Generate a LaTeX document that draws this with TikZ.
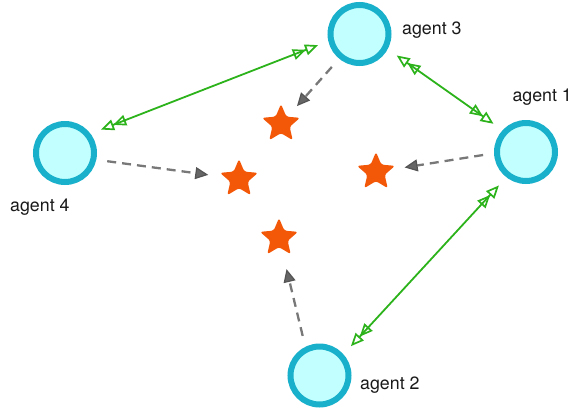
\documentclass[tikz,border=0pt]{standalone}
\usepackage{fontspec}
\setmainfont{TeX Gyre Heros}
\usetikzlibrary{arrows.meta,shapes.geometric}
\definecolor{ringcol}{RGB}{24,176,202}
\definecolor{fillcol}{RGB}{194,255,255}
\definecolor{starcol}{RGB}{243,87,8}
\definecolor{greencol}{RGB}{44,178,26}
\definecolor{dashcol}{RGB}{120,120,120}
\tikzset{
  agent/.style={circle, draw=ringcol, fill=fillcol, line width=6pt, minimum size=58pt, inner sep=0pt, outer sep=14pt},
  lbl/.style={anchor=base west, inner sep=0pt, font=\fontsize{17.8}{20}\selectfont, text=black!90},
  target/.style={star, star points=5, star point ratio=2.2, minimum size=40pt, inner sep=0pt, fill=starcol, rounded corners=2.5pt},
  comm/.style={draw=greencol, line width=1.8pt,
    {Triangle[open,length=13pt,width=11pt,line width=1.7pt]Triangle[open,length=13pt,width=11pt,line width=1.7pt]}-{Triangle[open,length=13pt,width=11pt,line width=1.7pt]Triangle[open,length=13pt,width=11pt,line width=1.7pt]}},
  look/.style={draw=dashcol, line width=2.3pt, dash pattern=on 9pt off 6pt,
    -{Triangle[length=13pt,width=12pt,line width=1.2pt,fill=dashcol!85!black,color=dashcol!70!black]}}
}
\begin{document}
\begin{tikzpicture}[x=1pt,y=1pt]
\useasboundingbox (0,0) rectangle (573,-413);
% agents
\node[agent] (a3) at (359.5,-34) {};
\node[agent] (a4) at (65,-153) {};
\node[agent] (a1) at (526,-152) {};
\node[agent] (a2) at (319.5,-375.5) {};
% labels
\node[lbl] (l3) at (402,-34) {agent 3};
\node[lbl] (l4) at (10,-211.7) {agent 4};
\node[lbl] (l1) at (512.3,-101.7) {agent 1};
\node[lbl] (l2) at (360,-389.3) {agent 2};
% stars
\node[target] (s1) at (281,-124) {};
\node[target] (s2) at (239,-179) {};
\node[target] (s3) at (376,-172) {};
\node[target] (s4) at (279,-238) {};
% dashed observation arrows
\draw[look, shorten >=24pt] (a3.230) -- (s1.center);
\draw[look, shorten >=31pt] (a4.-11) -- (s2.center);
\draw[look, shorten >=29pt] (a1.184) -- (s3.center);
\draw[look, shorten >=32pt] (a2.113) -- (s4.center);
% communication links
\draw[comm] (a4.33) -- (a3.195);
\draw[comm] (a3.-30) -- (a1.139);
\draw[comm] (a1.231) -- (a2.43);
\end{tikzpicture}
\end{document}
